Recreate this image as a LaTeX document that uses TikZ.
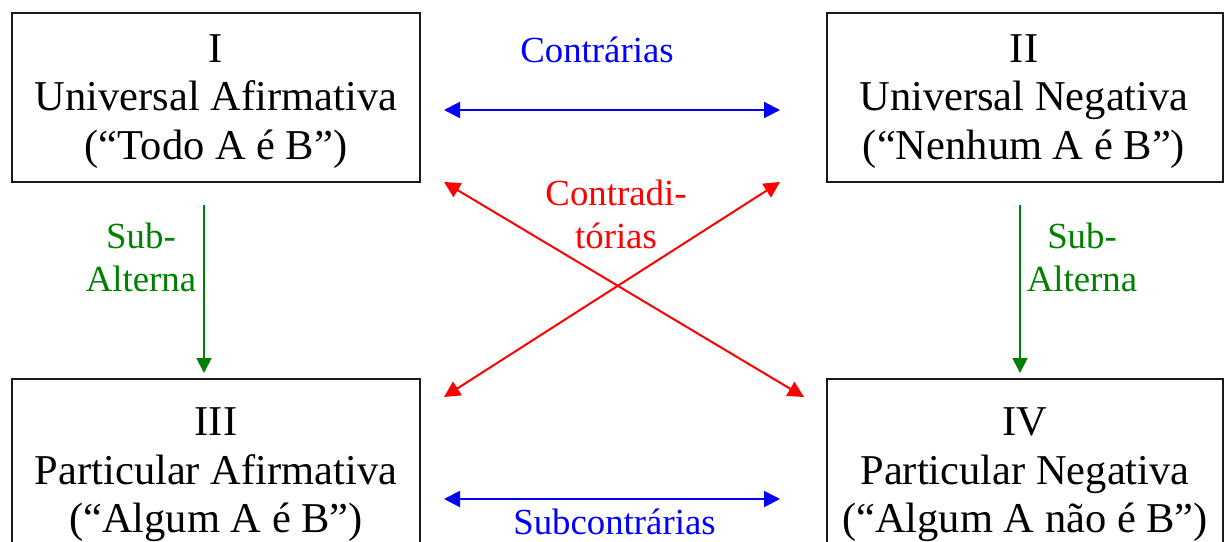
\documentclass[tikz,border=0pt]{standalone}
\usepackage{fontspec}
\setmainfont{Liberation Serif}
\usetikzlibrary{arrows.meta,calc}
\definecolor{pgreen}{RGB}{0,128,0}
\definecolor{pblue}{RGB}{0,0,255}
\definecolor{pred}{RGB}{255,0,0}
\begin{document}
\begin{tikzpicture}[x=1pt,y=-1pt,
  box/.style={draw=black!90, line width=2pt, outer sep=0pt, inner sep=0pt},
  boxtext/.style={align=center, inner sep=0pt, font=\fontsize{42.5}{48.5}\selectfont},
  lbl/.style={align=center, inner sep=0pt, font=\fontsize{36.8}{43}\selectfont},
  tipA/.tip={Triangle[length=16pt,width=16pt]},
  dbl/.style={line width=2pt, tipA-tipA},
  single/.style={line width=2pt, -{Triangle[length=15pt,width=15pt]}}
]
\useasboundingbox (0,0) rectangle (1225,541);
\clip (0,0) rectangle (1225,541);
\fill[white] (0,0) rectangle (1225,541);

% boxes
\node[box, minimum width=408pt, minimum height=169pt] (I) at (216,97.5) {};
\node[box, minimum width=396pt, minimum height=169pt] (II) at (1025,97.5) {};
\node[box, minimum width=408pt, minimum height=192pt] (III) at (216,475) {};
\node[box, minimum width=396pt, minimum height=192pt] (IV) at (1025,475) {};

% box texts
\node[boxtext] (tI) at (216,101.2) {I\\Universal Afirmativa\\(“Todo A é B”)};
\node[boxtext] (tII) at (1024,101.2) {II\\Universal Negativa\\(“Nenhum A é B”)};
\node[boxtext] (tIII) at (216,475.1) {III\\Particular Afirmativa\\(“Algum A é B”)};
\node[boxtext] (tIV) at (1025,475.1) {IV\\Particular Negativa\\(“Algum A não é B”)};

% labels
\node[lbl, text=pblue, anchor=base] (lc) at (597,62) {Contrárias};
\node[lbl, text=pred] (lcd) at (616,214) {Contradi-\\tórias};
\node[lbl, text=pgreen] (ls1) at (141,257) {Sub-\\Alterna};
\node[lbl, text=pgreen] (ls2) at (1082,257) {Sub-\\Alterna};
\node[lbl, text=pblue, anchor=base] (lsc) at (614.5,534) {Subcontrárias};

% contrárias / subcontrárias
\draw[dbl, pblue] ($(I.east)+(24,12.5)$) -- ($(II.west)+(-47,12.5)$);
\draw[dbl, pblue] ($(III.east)+(24,24)$) -- ($(IV.west)+(-47,24)$);

% contraditórias
\draw[dbl, pred] ($(I.south east)+(24,0)$) -- ($(IV.north west)+(-23,18)$);
\draw[dbl, pred] ($(II.south west)+(-47,0)$) -- ($(III.north east)+(24,18)$);

% sub-alternas
\draw[single, pgreen] ($(I.south)+(-12,23)$) -- ($(III.north)+(-12,-6)$);
\draw[single, pgreen] ($(II.south)+(-5,23)$) -- ($(IV.north)+(-5,-6)$);
\end{tikzpicture}
\end{document}
